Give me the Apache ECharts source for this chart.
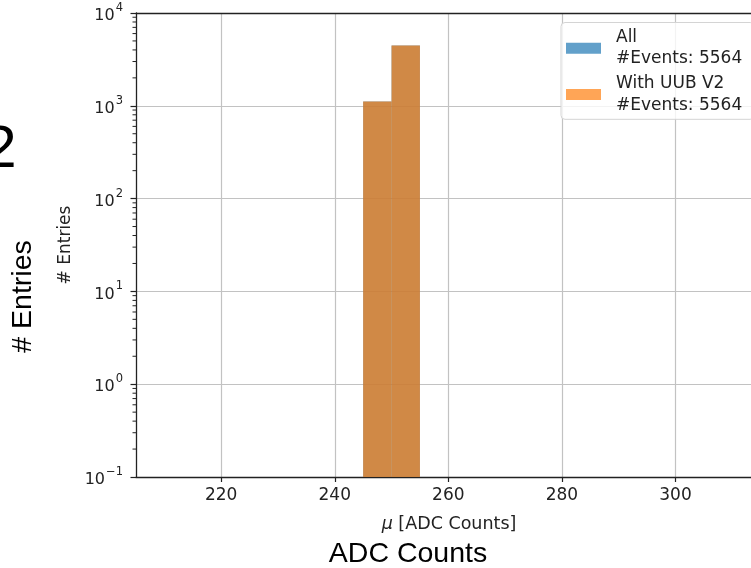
<!DOCTYPE html>
<html>
<head>
<meta charset="utf-8">
<script src="https://cdn.jsdelivr.net/npm/echarts@6/dist/echarts.min.js"></script>
<style>
  html, body { margin: 0; padding: 0; background: #ffffff; }
  #chart { width: 751px; height: 568px; }
</style>
</head>
<body>
<div id="chart"></div>
<script>
// Histogram of the fitted muon peak position, log-scaled counts
const binEdges = [245, 250, 255];
const allCounts = [1110, 4454];
const uubCounts = [1110, 4454];
const seriesNames = ['All', 'With UUB V2'];
const eventTotals = [5564, 5564];
const xTicks = [220, 240, 260, 280, 300];
const xRange = [205, 313.3];
const yRange = [0.1, 10000];

const FONT = '"DejaVu Sans", sans-serif';
const INK = '#222222';

function binsToData(counts) {
  return counts.map((c, i) => [binEdges[i], binEdges[i + 1], c]);
}

// minor ticks of the log axis: 2..9 times every decade
const minorTicks = [];
for (let e = Math.round(Math.log10(yRange[0])); e < Math.round(Math.log10(yRange[1])); e++) {
  for (let m = 2; m <= 9; m++) minorTicks.push(m * Math.pow(10, e));
}

function histItem(params, api) {
  const lo = api.coord([api.value(0), yRange[0]]);
  const hi = api.coord([api.value(1), api.value(2)]);
  return {
    type: 'rect',
    shape: { x: lo[0], y: hi[1], width: hi[0] - lo[0], height: lo[1] - hi[1] },
    style: api.style()
  };
}

function minorTickItem(params, api) {
  const p = api.coord([xRange[0], api.value(0)]);
  return {
    type: 'line',
    shape: { x1: p[0] - 3.5, y1: p[1], x2: p[0], y2: p[1] },
    style: { stroke: INK, lineWidth: 1 }
  };
}

function powLabel(v) {
  const e = Math.round(Math.log10(v));
  const s = e < 0 ? '\u2212' + Math.abs(e) : String(e);
  return '{b|10}{s|' + s + '}';
}

const chart = echarts.init(document.getElementById('chart'), null, { renderer: 'canvas' });

chart.setOption({
  animation: false,
  backgroundColor: '#ffffff',
  grid: { left: 136, top: 13, right: 0, bottom: 91 },
  legend: {
    data: seriesNames,
    orient: 'vertical',
    left: 561, top: 22.5,
    padding: [4, 12, 3, 5],
    itemGap: 3,
    itemWidth: 35, itemHeight: 11,
    icon: 'rect',
    backgroundColor: 'rgba(255,255,255,0.8)',
    borderColor: '#d4d4d4', borderWidth: 1, borderRadius: 4,
    formatter: function (name) {
      const i = seriesNames.indexOf(name);
      return name + '\n#Events: ' + eventTotals[i];
    },
    textStyle: { fontFamily: FONT, fontSize: 17, lineHeight: 21.7, color: INK, padding: [0, 0, 0, 10] }
  },
  xAxis: [
    {
      type: 'value',
      min: xRange[0], max: xRange[1],
      name: '{i|\u03bc} [ADC Counts]',
      nameLocation: 'middle', nameGap: 38,
      nameTextStyle: {
        fontFamily: FONT, fontSize: 17.5, color: INK, padding: [0, 0, 0, 11],
        rich: { i: { fontFamily: FONT, fontStyle: 'italic', fontSize: 17.5, color: INK } }
      },
      axisLine: { show: true, onZero: false, lineStyle: { color: INK, width: 1.3 } },
      axisTick: { show: true, length: 5, lineStyle: { color: INK, width: 1.2 }, customValues: xTicks },
      axisLabel: { fontFamily: FONT, fontSize: 17, color: INK, margin: 10, customValues: xTicks },
      splitLine: { show: true, lineStyle: { color: '#c2c2c2', width: 1.2 } }
    },
    {
      // top frame line
      type: 'value', position: 'top',
      min: xRange[0], max: xRange[1],
      axisLine: { show: true, onZero: false, lineStyle: { color: INK, width: 1.3 } },
      axisTick: { show: false }, axisLabel: { show: false }, splitLine: { show: false }
    }
  ],
  yAxis: {
    type: 'log', logBase: 10,
    min: yRange[0], max: yRange[1],
    name: '# Entries',
    nameLocation: 'middle', nameGap: 62,
    nameTextStyle: { fontFamily: FONT, fontSize: 17, color: INK },
    axisLine: { show: true, lineStyle: { color: INK, width: 1.3 } },
    axisTick: { show: true, length: 5.5, lineStyle: { color: INK, width: 1.2 } },
    axisLabel: {
      margin: 13,
      formatter: powLabel,
      rich: {
        b: { fontFamily: FONT, fontSize: 16, color: INK, lineHeight: 22, verticalAlign: 'bottom' },
        s: { fontFamily: FONT, fontSize: 11.5, color: INK, lineHeight: 22, verticalAlign: 'top', padding: [0, 0, 0, 1] }
      }
    },
    splitLine: { show: true, lineStyle: { color: '#c2c2c2', width: 1.2 } }
  },
  graphic: [
    { type: 'text', x: 16.5, y: 150.5, silent: true,
      style: { text: '2', fontFamily: '"Liberation Sans", Arial, sans-serif', fontSize: 60,
               fill: '#000', align: 'right', verticalAlign: 'middle' } },
    { type: 'text', x: 23, y: 296.5, rotation: Math.PI / 2, silent: true,
      style: { text: '# Entries', fontFamily: '"Liberation Sans", Arial, sans-serif', fontSize: 28.5,
               fill: '#000', align: 'center', verticalAlign: 'middle' } },
    { type: 'text', x: 408, y: 554, silent: true,
      style: { text: 'ADC Counts', fontFamily: '"Liberation Sans", Arial, sans-serif', fontSize: 28.5,
               fill: '#000', align: 'center', verticalAlign: 'middle' } }
  ],
  series: [
    {
      name: seriesNames[0], type: 'custom', renderItem: histItem,
      encode: { x: [0, 1], y: 2 },
      itemStyle: { color: 'rgba(31,119,180,0.7)' },
      data: binsToData(allCounts)
    },
    {
      name: seriesNames[1], type: 'custom', renderItem: histItem,
      encode: { x: [0, 1], y: 2 },
      itemStyle: { color: 'rgba(255,127,14,0.7)' },
      data: binsToData(uubCounts)
    },
    {
      name: 'minor', type: 'custom', renderItem: minorTickItem, clip: false, silent: true,
      encode: { y: 0 },
      data: minorTicks.map(v => [v]),
      z: 5
    }
  ]
});
</script>
</body>
</html>
